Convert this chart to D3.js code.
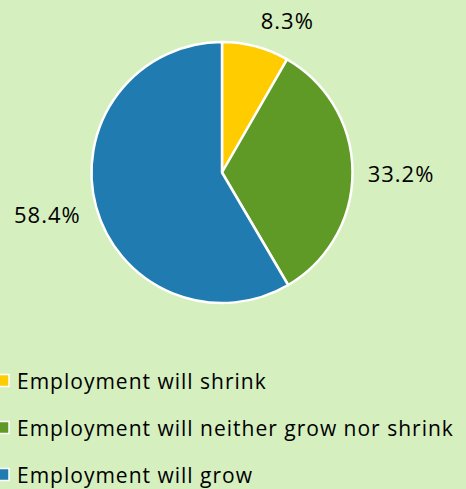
<!DOCTYPE html>
<html>
<head>
<meta charset="utf-8">
<script src="https://cdn.jsdelivr.net/npm/d3@7"></script>
<style>
  html, body { margin: 0; padding: 0; background: #d5efbf; }
  svg { display: block; }
  text { font-family: "Open Sans", "Noto Sans", sans-serif; fill: #000; }
</style>
</head>
<body>
<script>
const categories = ["Employment will shrink", "Employment will neither grow nor shrink", "Employment will grow"];
const values = [8.3, 33.2, 58.4];
const labels = ["8.3%", "33.2%", "58.4%"];
const colors = ["#ffcc00", "#5e9a25", "#1f7bb0"];

const W = 466, H = 489;
const cx = 222, cy = 172.5, R = 130.5;

const svg = d3.select("body").append("svg").attr("width", W).attr("height", H);

const pie = d3.pie().sort(null).value(d => d)(values);
const arc = d3.arc().innerRadius(0).outerRadius(R);

const g = svg.append("g").attr("transform", `translate(${cx},${cy})`);
g.selectAll("path").data(pie).join("path")
  .attr("d", arc)
  .attr("fill", (d, i) => colors[i])
  .attr("stroke", "#fff")
  .attr("stroke-width", 2.5)
  .attr("stroke-linejoin", "round");

// Outside-end labels: placed along each slice's mid-angle, nudged clear of the rim
const labelR = [160, 179, 181];
const labelDx = [24, 0, 0];
const labelDy = [3, 2, -5];
const labelSize = 22;
g.selectAll("text.lbl").data(pie).join("text")
  .attr("class", "lbl")
  .attr("x", (d, i) => Math.sin((d.startAngle + d.endAngle) / 2) * labelR[i] + labelDx[i])
  .attr("y", (d, i) => -Math.cos((d.startAngle + d.endAngle) / 2) * labelR[i] + labelDy[i] + labelSize * 0.36)
  .attr("text-anchor", "middle")
  .attr("font-size", labelSize)
  .attr("letter-spacing", 1)
  .text((d, i) => labels[i]);

// Legend
const leg = svg.append("g");
const rowY = d3.scalePoint().domain(categories).range([380.5, 474.5]);
const rows = leg.selectAll("g").data(categories).join("g")
  .attr("transform", d => `translate(0,${rowY(d)})`);
rows.append("rect")
  .attr("x", -3).attr("y", -6).attr("width", 12).attr("height", 12)
  .attr("fill", (d, i) => colors[i])
  .attr("stroke", "#fff").attr("stroke-width", 1.5);
rows.append("text")
  .attr("x", 17).attr("y", 8)
  .attr("font-size", 21)
  .attr("letter-spacing", 1)
  .text(d => d);
</script>
</body>
</html>
